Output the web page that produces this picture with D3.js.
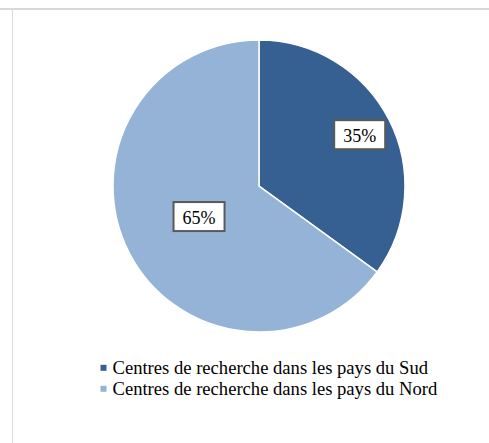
<!DOCTYPE html>
<html>
<head>
<meta charset="utf-8">
<script src="https://cdn.jsdelivr.net/npm/d3@7"></script>
<style>
  html, body { margin: 0; padding: 0; background: #fff; }
  svg { display: block; }
</style>
</head>
<body>
<svg id="chart" width="489" height="443"></svg>
<script>
// Share of research centres by region
const categories = ["Centres de recherche dans les pays du Sud", "Centres de recherche dans les pays du Nord"];
const values = [35, 65];
const valueLabels = ["35%", "65%"];

const colors = ["#366092", "#95b3d7"];
// Distance of each data label from the centre, as a fraction of the radius
const labelRadiusFactor = [0.774, 0.461];

const svg = d3.select("#chart");
const W = 489, H = 443;
const serif = "'Liberation Serif', 'Times New Roman', serif";

// Frame lines
svg.append("line")
  .attr("x1", 0).attr("x2", W).attr("y1", 9).attr("y2", 9)
  .attr("stroke", "#d9d9d9").attr("stroke-width", 2);
svg.append("line")
  .attr("x1", 12.5).attr("x2", 12.5).attr("y1", 10).attr("y2", H)
  .attr("stroke", "#d9d9d9").attr("stroke-width", 1);

const cx = 259, cy = 186, R = 146;

const data = categories.map((c, i) => ({ name: c, value: values[i], label: valueLabels[i], color: colors[i], lr: labelRadiusFactor[i] }));

const pie = d3.pie().sort(null).value(d => d.value);
const arc = d3.arc().innerRadius(0).outerRadius(R);
const arcs = pie(data);

const g = svg.append("g").attr("transform", `translate(${cx},${cy})`);

g.selectAll("path.slice")
  .data(arcs)
  .join("path")
  .attr("class", "slice")
  .attr("d", arc)
  .attr("fill", d => d.data.color)
  .attr("stroke", "#ffffff")
  .attr("stroke-width", 1.5)
  .attr("stroke-linejoin", "miter");

// Boxed data labels
const labelG = g.selectAll("g.lbl")
  .data(arcs)
  .join("g")
  .attr("class", "lbl")
  .attr("transform", d => {
    const r = R * d.data.lr;
    const [x, y] = d3.arc().innerRadius(r).outerRadius(r).centroid(d);
    return `translate(${x},${y})`;
  });

const boxW = 51, boxH = 29;
labelG.append("rect")
  .attr("x", -boxW / 2).attr("y", -boxH / 2)
  .attr("width", boxW).attr("height", boxH)
  .attr("fill", "#ffffff")
  .attr("stroke", "#595959")
  .attr("stroke-width", 2);
labelG.append("text")
  .attr("text-anchor", "middle")
  .attr("y", 7.7)
  .attr("font-family", serif)
  .attr("font-size", 18)
  .attr("fill", "#000")
  .text(d => d.data.label);

// Legend
const legend = svg.append("g").attr("transform", "translate(100.5,0)");
const legendRows = legend.selectAll("g")
  .data(data)
  .join("g")
  .attr("transform", (d, i) => `translate(0,${373.5 + i * 21})`);
legendRows.append("rect")
  .attr("x", 0).attr("y", -8.7)
  .attr("width", 6).attr("height", 6)
  .attr("fill", d => d.color);
legendRows.append("text")
  .attr("x", 12).attr("y", 0)
  .attr("font-family", serif)
  .attr("font-size", 18.6)
  .attr("fill", "#000")
  .text(d => d.name);
</script>
</body>
</html>
